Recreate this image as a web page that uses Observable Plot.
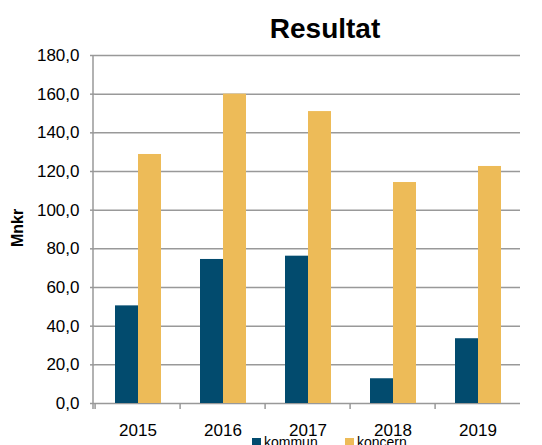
<!DOCTYPE html>
<html>
<head>
<meta charset="utf-8">
<script src="https://cdn.jsdelivr.net/npm/d3@7"></script>
<script src="https://cdn.jsdelivr.net/npm/@observablehq/plot@0.6"></script>
<style>
  html, body { margin: 0; padding: 0; background: #fff; overflow: hidden; }
  #wrap { position: relative; width: 542px; height: 445px; font-family: "Liberation Sans", Arial, sans-serif; }
  #title { position: absolute; top: 15px; left: 325px; transform: translateX(-50%); font-size: 28px; font-weight: bold; line-height: 1; white-space: nowrap; }
  #ylabel { position: absolute; left: 18px; top: 228px; transform: translate(-50%, -50%) rotate(-90deg); font-size: 16px; font-weight: bold; line-height: 1; white-space: nowrap; }
  .leg { position: absolute; top: 435px; font-size: 14px; line-height: 1; white-space: nowrap; }
  .sw { position: absolute; top: 438px; width: 9px; height: 9px; }
  #chart { position: absolute; left: 0; top: 0; }
</style>
</head>
<body>
<div id="wrap">
  <div id="chart"></div>
  <div id="title">Resultat</div>
  <div id="ylabel">Mnkr</div>
  <div id="legend"></div>
</div>
<script>
const years = ["2015", "2016", "2017", "2018", "2019"];
const series = ["kommun", "koncern"];
const kommun = [50.5, 74.5, 76.2, 12.8, 33.5];
const koncern = [128.8, 160.0, 151.0, 114.3, 122.6];
const colors = ["#024B6E", "#EDBB58"];
const yTicks = [0, 20, 40, 60, 80, 100, 120, 140, 160, 180];

const data = [];
years.forEach((y, i) => {
  data.push({year: y, series: "kommun", value: kommun[i]});
  data.push({year: y, series: "koncern", value: koncern[i]});
});

const W = 542, H = 445, mL = 93, mR = 20, mT = 55, mB = 42;
const halfBand = (W - mL - mR) / years.length / 2;
const fmt = d => d.toFixed(1).replace(".", ",");

const plot = Plot.plot({
  width: W, height: H,
  marginLeft: mL, marginRight: mR, marginTop: mT, marginBottom: mB,
  style: {fontFamily: '"Liberation Sans", Arial, sans-serif', fontSize: "17px", color: "#000", background: "transparent"},
  fx: {domain: years, padding: 0, label: null},
  x: {domain: series, paddingInner: 0, paddingOuter: 0.79, axis: null},
  y: {domain: [0, 180], label: null},
  color: {domain: series, range: colors},
  marks: [
    Plot.gridY(yTicks, {stroke: "#999", strokeOpacity: 1, strokeWidth: 1.5}),
    Plot.barY(data, {fx: "year", x: "series", y: "value", fill: "series"}),
    Plot.axisY(yTicks, {tickFormat: fmt, tickSize: 5, tickPadding: 11, stroke: "#999", strokeWidth: 1.5, fontSize: 17, label: null}),
    Plot.axisFx({anchor: "bottom", tickSize: 0, tickPadding: 20, fontSize: 17, label: null}),
    Plot.axisFx({anchor: "bottom", tickSize: 6, tickFormat: () => "", dx: -halfBand, stroke: "#999", strokeWidth: 1.5, label: null})
  ]
});
document.getElementById("chart").appendChild(plot);

// left axis line
const ys = plot.scale("y");
const svg = d3.select(plot);
svg.append("line")
  .attr("x1", mL).attr("x2", mL)
  .attr("y1", ys.apply(180)).attr("y2", ys.apply(0) + 6)
  .attr("stroke", "#999").attr("stroke-width", 1.5);

// legend
const legend = document.getElementById("legend");
const legPos = [252, 345];
series.forEach((s, i) => {
  const sw = document.createElement("div");
  sw.className = "sw"; sw.style.left = legPos[i] + "px"; sw.style.background = colors[i];
  legend.appendChild(sw);
  const t = document.createElement("div");
  t.className = "leg"; t.style.left = (legPos[i] + 12) + "px"; t.textContent = s;
  legend.appendChild(t);
});
</script>
</body>
</html>
